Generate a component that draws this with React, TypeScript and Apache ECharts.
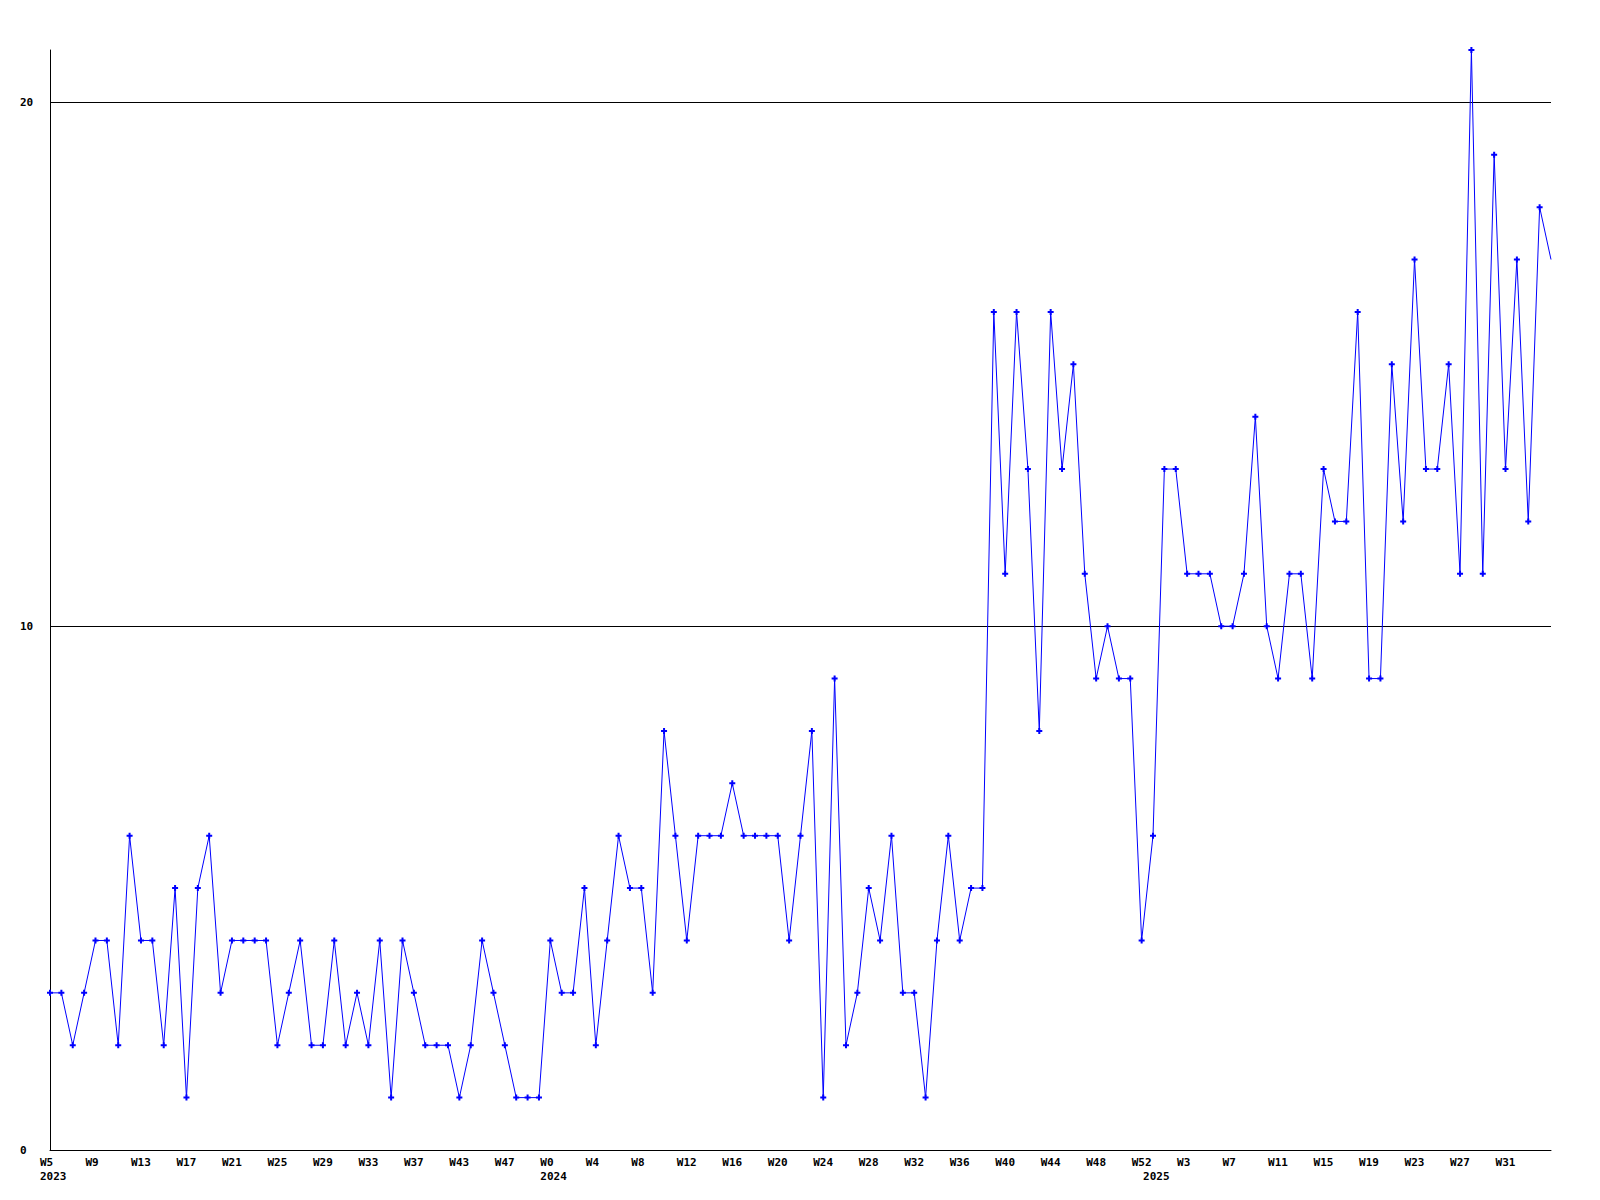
import React, { useEffect, useRef } from 'react';
import * as echarts from 'echarts';

// Week categories per year (in plotting order)
const weeks2023 = [
  'W5', 'W6', 'W7', 'W8', 'W9', 'W10', 'W11', 'W12', 'W13', 'W14', 'W15', 'W16', 'W17', 'W18', 'W19', 'W20',
  'W21', 'W22', 'W23', 'W24', 'W25', 'W26', 'W27', 'W28', 'W29', 'W30', 'W31', 'W32', 'W33', 'W34', 'W35', 'W36',
  'W37', 'W40', 'W41', 'W42', 'W43', 'W44', 'W45', 'W46', 'W47', 'W49', 'W50', 'W51',
];
const weeks2024 = [
  'W0', 'W1', 'W2', 'W3', 'W4', 'W5', 'W6', 'W7', 'W8', 'W9', 'W10', 'W11', 'W12', 'W13', 'W14', 'W15', 'W16',
  'W17', 'W18', 'W19', 'W20', 'W21', 'W22', 'W23', 'W24', 'W25', 'W26', 'W27', 'W28', 'W29', 'W30', 'W31', 'W32',
  'W33', 'W34', 'W35', 'W36', 'W37', 'W38', 'W39', 'W40', 'W41', 'W42', 'W43', 'W44', 'W45', 'W46', 'W47', 'W48',
  'W49', 'W50', 'W51', 'W52',
];
const weeks2025 = [
  'W0', 'W1', 'W2', 'W3', 'W4', 'W5', 'W6', 'W7', 'W8', 'W9', 'W10', 'W11', 'W12', 'W13', 'W14', 'W15', 'W16',
  'W17', 'W18', 'W19', 'W20', 'W21', 'W22', 'W23', 'W24', 'W25', 'W26', 'W27', 'W28', 'W29', 'W30', 'W31', 'W32',
  'W33', 'W34', 'W35',
];

// Weekly counts
const values2023 = [
  3, 3, 2, 3, 4, 4, 2, 6, 4, 4,
  2, 5, 1, 5, 6, 3, 4, 4, 4, 4,
  2, 3, 4, 2, 2, 4, 2, 3, 2, 4,
  1, 4, 3, 2, 2, 2, 1, 2, 4, 3,
  2, 1, 1, 1,
];
const values2024 = [
  4, 3, 3, 5, 2, 4, 6, 5, 5, 3,
  8, 6, 4, 6, 6, 6, 7, 6, 6, 6,
  6, 4, 6, 8, 1, 9, 2, 3, 5, 4,
  6, 3, 3, 1, 4, 6, 4, 5, 5, 16,
  11, 16, 13, 8, 16, 13, 15, 11, 9, 10,
  9, 9, 4,
];
const values2025 = [
  6, 13, 13, 11, 11, 11, 10, 10, 11, 14,
  10, 9, 11, 11, 9, 13, 12, 12, 16, 9,
  9, 15, 12, 17, 13, 13, 15, 11, 21, 11,
  19, 13, 17, 12, 18, 17,
];

const yearNames = ['2023', '2024', '2025'];
const yMin = 0;
const yMax = 21;
const yInterval = 10;

const FONT = '"DejaVu Sans Mono", "Liberation Mono", monospace';

export default function App() {
  const ref = useRef<HTMLDivElement>(null);

  useEffect(() => {
    if (!ref.current) return;
    const chart = echarts.init(ref.current, null, { renderer: 'svg' });

    const weekGroups = [weeks2023, weeks2024, weeks2025];
    const categories = weekGroups.flat();
    const values = [...values2023, ...values2024, ...values2025];
    const yearRow = weekGroups.flatMap((g, gi) => g.map((_, i) => (i === 0 ? yearNames[gi] : '')));
    const lastIndex = categories.length - 1;
    // the final point sits on the right edge without a marker
    const seriesData = values.map((v, i) => (i === lastIndex ? { value: v, symbol: 'none' } : v));

    const labelBase = {
      color: '#000000',
      fontFamily: FONT,
      fontWeight: 'bold' as const,
      fontSize: 11,
    };

    chart.setOption({
      animation: false,
      backgroundColor: '#ffffff',
      grid: { left: 50, top: 50, width: 1501, height: 1100, containLabel: false },
      xAxis: [
        {
          type: 'category',
          data: categories,
          boundaryGap: false,
          axisLine: { show: true, lineStyle: { color: '#000000', width: 1 } },
          axisTick: { show: false },
          splitLine: { show: false },
          axisLabel: {
            ...labelBase,
            interval: (i: number) => i % 4 === 0 && i < lastIndex,
            align: 'left',
            padding: [0, 0, 0, -10],
            margin: 7,
            hideOverlap: false,
          },
        },
        {
          type: 'category',
          data: yearRow,
          boundaryGap: false,
          position: 'bottom',
          offset: 14,
          axisLine: { show: false },
          axisTick: { show: false },
          splitLine: { show: false },
          axisLabel: {
            ...labelBase,
            interval: 0,
            align: 'left',
            padding: [0, 0, 0, -10],
            margin: 7,
            hideOverlap: false,
          },
        },
      ],
      yAxis: {
        type: 'value',
        min: yMin,
        max: yMax,
        interval: yInterval,
        axisLine: { show: true, lineStyle: { color: '#000000', width: 1 } },
        axisTick: { show: false },
        splitLine: { show: true, showMaxLine: false, lineStyle: { color: '#000000', width: 1 } },
        axisLabel: {
          ...labelBase,
          align: 'left',
          margin: 30,
          showMaxLabel: false,
        },
      },
      series: [
        {
          type: 'line',
          xAxisIndex: 0,
          data: seriesData,
          symbol: 'path://M2,0H4V2H6V4H4V6H2V4H0V2H2Z',
          symbolSize: 6,
          showSymbol: true,
          lineStyle: { color: '#0000ff', width: 1 },
          itemStyle: { color: '#0000ff' },
        },
      ],
    });

    return () => chart.dispose();
  }, []);

  return (
    <div
      ref={ref}
      style={{ position: 'fixed', left: 0, top: 0, width: 1600, height: 1200, background: '#ffffff' }}
    />
  );
}
